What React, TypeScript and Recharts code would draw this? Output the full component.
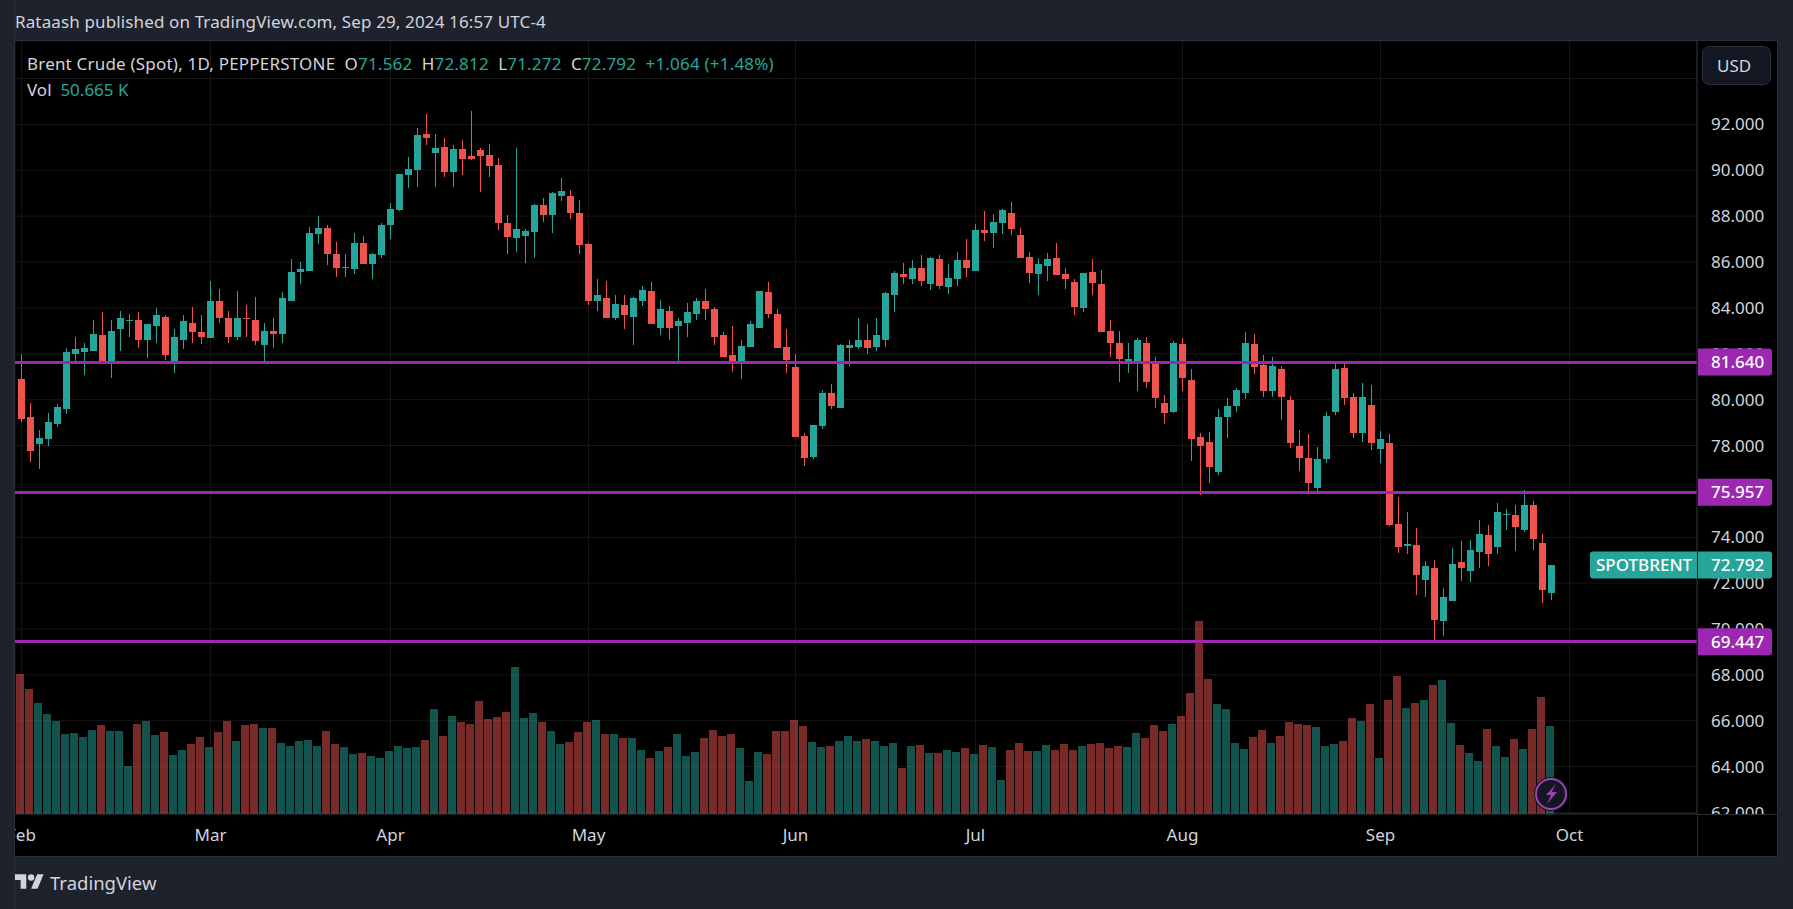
import { Bar, CartesianGrid, ComposedChart, ReferenceLine, XAxis, YAxis } from 'recharts'

// Brent daily candles, one entry per session from the first Feb bar to the last bar
const opens = [
  80.88, 79.23, 78.06, 78.28, 78.93, 79.58, 81.97, 82.06, 82.14, 82.8,
  81.62, 83.06, 83.41, 83.49, 82.58, 83.19, 83.62, 81.67, 82.62, 83.36,
  82.97, 82.67, 84.28, 83.58, 82.71, 83.58, 83.49, 82.36, 83.01, 82.88,
  84.32, 85.58, 85.62, 87.23, 87.49, 86.36, 85.75, 85.71, 86.84, 85.93,
  86.32, 87.62, 88.28, 89.8, 90.01, 91.58, 90.75, 91.01, 89.93, 90.93,
  90.62, 90.88, 90.67, 90.23, 87.71, 87.06, 87.14, 87.32, 88.49, 88.06,
  88.88, 88.88, 88.14, 86.8, 84.32, 84.45, 83.58, 84.14, 83.62, 84.32,
  84.75, 83.14, 83.88, 83.19, 83.32, 83.75, 84.28, 83.97, 82.8, 81.93,
  81.67, 82.28, 83.14, 84.71, 83.75, 82.28, 81.41, 78.41, 77.49, 78.84,
  80.28, 79.62, 82.23, 82.28, 82.62, 82.28, 82.62, 84.54, 85.49, 85.28,
  85.75, 85.06, 86.14, 84.93, 85.28, 86.1, 85.62, 87.41, 87.28, 87.71,
  88.14, 87.19, 86.23, 85.49, 85.84, 86.19, 85.49, 85.14, 84.01, 85.58,
  85.06, 83.01, 82.49, 81.62, 81.67, 82.49, 81.58, 79.84, 79.45, 82.41,
  80.84, 78.36, 78.14, 76.84, 79.23, 79.71, 80.28, 82.41, 81.49, 80.36,
  81.32, 79.97, 77.97, 77.45, 76.14, 77.41, 79.45, 81.36, 80.1, 78.54,
  79.75, 77.84, 78.1, 74.58, 73.62, 73.67, 72.14, 72.67, 70.36, 71.23,
  72.93, 72.54, 73.36, 74.1, 73.58, 74.97, 74.97, 74.32, 75.41, 73.75, 71.562,
]
const closes = [
  79.14, 77.75, 78.32, 79.01, 79.67, 82.06, 82.19, 82.23, 82.84, 81.67,
  83.01, 83.54, 83.49, 82.62, 83.28, 83.67, 81.93, 82.71, 83.41, 82.93,
  82.75, 84.28, 83.58, 82.75, 83.58, 83.54, 82.54, 83.01, 82.84, 84.45,
  85.58, 85.71, 87.28, 87.49, 86.36, 85.75, 85.8, 86.84, 85.93, 86.36,
  87.62, 88.32, 89.84, 90.06, 91.54, 91.41, 90.97, 89.93, 90.93, 90.49,
  90.49, 90.62, 90.19, 87.71, 87.1, 87.45, 87.36, 88.49, 88.06, 89.01,
  89.1, 88.14, 86.75, 84.32, 84.54, 83.58, 84.19, 83.71, 84.41, 84.8,
  83.28, 83.93, 83.14, 83.41, 83.84, 84.32, 83.93, 82.75, 81.88, 81.67,
  82.32, 83.28, 84.75, 83.75, 82.23, 81.71, 78.36, 77.45, 78.88, 80.28,
  79.71, 82.36, 82.36, 82.62, 82.23, 82.8, 84.67, 85.54, 85.36, 85.75,
  85.19, 86.19, 84.97, 85.32, 86.1, 85.75, 87.41, 87.28, 87.75, 88.28,
  87.45, 86.19, 85.54, 85.93, 86.14, 85.45, 85.28, 84.06, 85.54, 85.1,
  82.97, 82.45, 81.75, 81.75, 82.58, 80.75, 80.06, 79.41, 82.49, 80.93,
  78.28, 77.97, 77.06, 79.23, 79.71, 80.41, 82.49, 81.41, 80.36, 81.45,
  80.1, 78.1, 77.45, 76.36, 77.41, 79.28, 81.32, 80.06, 78.54, 80.1,
  78.1, 78.28, 74.54, 73.58, 73.71, 72.36, 72.75, 70.41, 71.41, 72.84,
  72.67, 73.45, 74.14, 73.28, 75.1, 75.01, 74.45, 75.41, 73.93, 71.71, 72.792,
]
const highs = [
  81.97, 79.84, 78.67, 79.41, 79.8, 82.23, 82.75, 82.45, 83.49, 83.84,
  83.45, 83.88, 83.75, 83.8, 83.28, 84.01, 83.67, 83.1, 83.67, 84.06,
  83.71, 85.19, 84.84, 83.88, 84.75, 84.14, 84.49, 83.32, 83.54, 84.71,
  86.13, 86.01, 87.52, 88.01, 87.62, 86.88, 86.36, 87.28, 87.14, 86.41,
  87.71, 88.58, 89.84, 90.58, 91.84, 92.45, 91.58, 91.41, 91.1, 91.32,
  92.58, 90.97, 91.14, 90.54, 88.06, 90.97, 87.45, 88.54, 88.8, 89.06,
  89.67, 89.14, 88.71, 86.84, 85.28, 85.19, 84.54, 84.54, 84.49, 84.97,
  85.14, 84.36, 84.1, 83.54, 84.23, 84.45, 84.84, 84.06, 82.93, 83.23,
  82.62, 83.41, 84.75, 85.14, 83.97, 83.06, 82.01, 78.54, 78.88, 80.41,
  80.67, 82.41, 82.62, 83.58, 83.28, 83.58, 84.71, 85.62, 85.97, 86.1,
  86.32, 86.23, 86.32, 85.93, 86.45, 87.01, 87.67, 88.23, 88.1, 88.32,
  88.62, 87.49, 86.45, 86.19, 86.41, 86.84, 85.75, 85.28, 85.54, 86.14,
  85.67, 83.49, 83.01, 82.45, 82.67, 82.75, 81.84, 80.19, 82.54, 82.67,
  81.32, 78.54, 78.58, 79.58, 80.06, 80.49, 82.97, 82.84, 81.93, 81.88,
  81.45, 80.14, 78.67, 78.49, 77.93, 79.45, 81.67, 81.62, 80.28, 80.71,
  80.62, 78.62, 78.49, 75.75, 75.1, 74.41, 72.97, 73.01, 71.8, 73.54,
  73.84, 73.88, 74.75, 74.54, 75.49, 75.23, 75.41, 76.06, 75.58, 74.14, 72.812,
]
const lows = [
  79.01, 77.28, 76.97, 77.97, 78.8, 79.36, 81.54, 81.06, 82.1, 81.61,
  80.93, 82.1, 82.71, 82.23, 81.8, 82.49, 81.71, 81.14, 82.19, 82.49,
  82.41, 82.67, 83.36, 82.45, 82.58, 82.75, 82.36, 81.62, 82.23, 82.45,
  84.32, 85.06, 85.62, 86.8, 85.88, 85.36, 85.36, 85.49, 85.93, 85.28,
  86.19, 87.01, 88.23, 89.23, 89.28, 91.1, 89.28, 89.71, 89.28, 89.8,
  90.45, 89.06, 89.71, 87.41, 86.36, 86.45, 85.97, 86.19, 87.75, 87.28,
  88.67, 87.88, 86.36, 84.14, 83.88, 83.58, 83.49, 83.1, 82.36, 84.1,
  83.28, 82.8, 82.62, 81.54, 82.75, 83.49, 83.45, 82.36, 81.84, 81.19,
  80.88, 82.28, 83.14, 83.54, 82.23, 81.14, 78.36, 77.1, 77.41, 78.71,
  79.58, 79.62, 81.45, 82.19, 82.01, 82.14, 82.28, 83.84, 85.06, 85.06,
  84.97, 84.8, 84.84, 84.62, 84.97, 85.36, 85.62, 86.93, 86.62, 87.23,
  87.19, 86.19, 85.1, 84.54, 85.19, 85.45, 84.84, 83.71, 83.8, 84.58,
  82.93, 81.88, 80.75, 81.14, 80.36, 80.49, 79.62, 78.93, 79.41, 80.36,
  77.32, 75.84, 76.36, 76.71, 78.32, 79.45, 80.01, 81.1, 80.1, 80.1,
  79.1, 77.88, 76.88, 75.97, 76.01, 77.23, 79.32, 79.75, 78.32, 78.14,
  77.8, 77.23, 74.49, 73.32, 73.28, 71.49, 71.41, 69.41, 69.71, 71.23,
  72.1, 72.06, 72.67, 72.75, 73.28, 74.32, 73.41, 74.23, 73.45, 71.14, 71.272,
]
// volume in thousands, same sessions; the session before the first one is cut by the pane edge
const priorVolume = 68.3
const volumes = [
  80.3, 71.7, 63.7, 57.4, 53.4, 45.9, 46.5, 44.2, 48.2, 51.1,
  47.6, 47.6, 27.5, 51.7, 53.4, 45.3, 47.1, 33.9, 36.7, 40.2,
  44.2, 38.5, 47.1, 53.4, 41.9, 51.1, 51.7, 49.4, 49.4, 40.7,
  39.0, 41.9, 42.5, 39.0, 47.6, 40.2, 38.5, 34.4, 35.0, 33.3,
  32.1, 36.2, 39.0, 37.9, 38.5, 42.5, 60.3, 44.8, 56.2, 52.8,
  51.7, 64.9, 54.5, 55.7, 58.5, 84.4, 55.1, 58.0, 52.8, 47.6,
  40.2, 41.3, 47.1, 52.8, 53.9, 45.9, 45.9, 43.6, 43.6, 36.7,
  32.1, 36.2, 38.5, 45.9, 33.3, 35.6, 43.6, 48.2, 44.8, 45.9,
  37.9, 18.9, 35.6, 34.4, 47.6, 47.6, 53.9, 50.5, 41.3, 38.5,
  39.0, 41.9, 44.8, 41.9, 43.0, 41.9, 39.0, 40.7, 26.4, 39.0,
  39.6, 35.0, 35.0, 36.7, 35.6, 37.9, 34.4, 39.6, 38.5, 19.5,
  36.7, 40.7, 36.2, 36.2, 39.6, 36.7, 40.2, 36.7, 39.0, 40.2,
  40.7, 37.9, 39.0, 38.5, 46.5, 43.6, 51.1, 47.6, 51.7, 56.2,
  69.4, 110.8, 77.5, 63.1, 60.3, 40.7, 37.3, 44.2, 48.2, 40.7,
  44.8, 52.8, 51.7, 51.1, 49.9, 39.0, 40.2, 41.9, 55.1, 53.4,
  63.1, 32.1, 65.4, 79.2, 60.8, 63.7, 65.4, 74.0, 76.9, 52.2,
  39.6, 35.0, 30.4, 48.8, 39.0, 32.7, 43.0, 37.3, 48.8, 67.1, 50.665,
]
const priceTicks = [62, 64, 66, 68, 70, 72, 74, 76, 78, 80, 82, 84, 86, 88, 90, 92, 94]
const unlabelledTicks = [76, 94]
const monthTicks = [0, 21, 41, 63, 86, 106, 129, 151, 172]
const monthLabels = ['Feb', 'Mar', 'Apr', 'May', 'Jun', 'Jul', 'Aug', 'Sep', 'Oct']
const levels = [81.64, 75.957, 69.447]
const lastPrice = 72.792
const symbol = 'SPOTBRENT'

const UP = '#26a69a'
const DOWN = '#ef5350'
const PURPLE = '#9c27b0'
const FRAME = '#2a2e39'
const PAGE = '#1e222d'
const TEXT = '#d1d4dc'
const FONT = '"Noto Sans", sans-serif'
const TIME_DOMAIN = [-0.7222, 186.167]
const PRICE_DOMAIN = [61.935, 95.635]

const rows = [
  { idx: -1, volume: priorVolume },
  ...opens.map((open, i) => ({
    idx: i,
    open,
    close: closes[i],
    range: [lows[i], highs[i]],
    volume: volumes[i],
  })),
]

function Candle({ x, y, width, height, payload }: any) {
  if (!payload.range || !height) return null
  const [low, high] = payload.range
  const perUnit = height / (high - low)
  const top = y + (high - Math.max(payload.open, payload.close)) * perUnit
  const size = Math.max(Math.abs(payload.open - payload.close) * perUnit, 1)
  const fill = payload.close >= payload.open ? UP : DOWN
  const cx = Math.floor(x + width / 2)
  return (
    <g shapeRendering="crispEdges">
      <rect x={cx} y={y} width={1} height={height} fill={fill} />
      <rect x={cx - 3} y={top} width={7} height={size} fill={fill} />
    </g>
  )
}

function VolumeBar({ x, y, width, height, payload }: any) {
  const up = payload.close >= payload.open
  return (
    <rect
      x={Math.floor(x)}
      y={y}
      width={width}
      height={height}
      fill={up ? UP : DOWN}
      fillOpacity={0.5}
      shapeRendering="crispEdges"
    />
  )
}

function LevelTag({ viewBox, value }: any) {
  const left = viewBox.x + viewBox.width + 1
  return (
    <g>
      <path
        d={`M${left} ${viewBox.y - 13.5}h71a3 3 0 0 1 3 3v21a3 3 0 0 1 -3 3h-71z`}
        fill={PURPLE}
      />
      <text x={left + 13} y={viewBox.y + 6} fill="#fff" fontFamily={FONT} fontSize={17} fontWeight={500}>
        {value.toFixed(3)}
      </text>
    </g>
  )
}

function LastPriceTag({ viewBox }: any) {
  const axis = viewBox.x + viewBox.width
  return (
    <g>
      <path
        d={`M${axis - 104} ${viewBox.y - 13.5}h104v27h-104a3 3 0 0 1 -3 -3v-21a3 3 0 0 1 3 -3z`}
        fill={UP}
      />
      <path
        d={`M${axis + 1} ${viewBox.y - 13.5}h71a3 3 0 0 1 3 3v21a3 3 0 0 1 -3 3h-71z`}
        fill={UP}
      />
      <text x={axis - 101} y={viewBox.y + 6} fill="#fff" fontFamily={FONT} fontSize={17} fontWeight={500}>
        {symbol}
      </text>
      <text x={axis + 14} y={viewBox.y + 6} fill="#fff" fontFamily={FONT} fontSize={17} fontWeight={500}>
        {lastPrice.toFixed(3)}
      </text>
    </g>
  )
}

// second transparent chart on the same scales, only so the tags paint over the axis labels
function TagLayer() {
  return (
    <div style={{ position: 'absolute', left: 0, top: 0 }}>
      <ComposedChart
        width={1793}
        height={909}
        data={rows}
        margin={{ top: 41, right: 96, bottom: 95, left: 15 }}
      >
        <XAxis dataKey="idx" type="number" domain={TIME_DOMAIN} allowDataOverflow hide />
        <YAxis domain={PRICE_DOMAIN} allowDataOverflow hide />
        {levels.map((level) => (
          <ReferenceLine
            key={level}
            y={level}
            stroke="none"
            label={{ content: (p: any) => <LevelTag {...p} value={level} /> }}
          />
        ))}
        <ReferenceLine
          y={lastPrice}
          stroke="none"
          label={{ content: (p: any) => <LastPriceTag {...p} /> }}
        />
      </ComposedChart>
    </div>
  )
}

function Teal({ children }: { children: string }) {
  return <span style={{ color: UP }}>{children}</span>
}

function Overlay() {
  return (
    <>
      {/* strips around the pane */}
      <div style={{ position: 'absolute', left: 0, top: 0, width: 15, height: 909, background: PAGE, borderRight: `1px solid ${FRAME}`, boxSizing: 'border-box' }} />
      {/* price scale ends at the time axis, so the 62 label is cut there */}
      <div style={{ position: 'absolute', left: 1697, top: 814, width: 80, height: 42, background: '#000' }} />
      <div style={{ position: 'absolute', left: 1697, top: 814, width: 80, height: 1, background: FRAME }} />
      <div style={{ position: 'absolute', left: 1697, top: 814, width: 1, height: 42, background: FRAME }} />
      <div style={{ position: 'absolute', left: 15, top: 40, width: 1763, height: 1, background: FRAME }} />
      <div style={{ position: 'absolute', left: 15, top: 856, width: 1763, height: 1, background: FRAME }} />
      <div style={{ position: 'absolute', left: 1777, top: 40, width: 1, height: 817, background: FRAME }} />

      <div style={{ position: 'absolute', left: 15, top: 10, color: TEXT, fontSize: 17, letterSpacing: 0.13, whiteSpace: 'nowrap' }}>
        Rataash published on TradingView.com, Sep 29, 2024 16:57 UTC-4
      </div>

      <div style={{ position: 'absolute', left: 27, top: 52, color: TEXT, fontSize: 17, letterSpacing: 0.2, whiteSpace: 'pre' }}>
        {'Brent Crude (Spot), 1D, PEPPERSTONE  O'}
        <Teal>71.562</Teal>
        {'  H'}
        <Teal>72.812</Teal>
        {'  L'}
        <Teal>71.272</Teal>
        {'  C'}
        <Teal>72.792</Teal>
        {'  '}
        <Teal>+1.064 (+1.48%)</Teal>
      </div>
      <div style={{ position: 'absolute', left: 27, top: 78, color: TEXT, fontSize: 17, whiteSpace: 'pre' }}>
        {'Vol  '}
        <Teal>50.665 K</Teal>
      </div>

      <div style={{ position: 'absolute', left: 1702, top: 46, width: 69, height: 39, boxSizing: 'border-box', background: '#131722', border: `1px solid ${FRAME}`, borderRadius: 7, color: TEXT, fontSize: 17, paddingLeft: 14, lineHeight: '37px' }}>
        USD
      </div>

      <svg style={{ position: 'absolute', left: 1533, top: 776 }} width={36} height={36}>
        <circle cx={18} cy={18} r={17} fill="#131722" />
        <circle cx={18} cy={18} r={15} fill="none" stroke="#a040b8" strokeWidth={2} />
        <path d="M23 8l-10 11h5l-4 9l10-12h-5.5z" fill="#a040b8" />
      </svg>

      <svg style={{ position: 'absolute', left: 15, top: 874 }} width={29} height={15} viewBox="0 4 36 18">
        <path d="M14 22H7V11H0V4h14v18zM28 22h-8l7.5-18h8L28 22z" fill={TEXT} />
        <circle cx={20} cy={8} r={4} fill={TEXT} />
      </svg>
      <div style={{ position: 'absolute', left: 50, top: 870, color: TEXT, fontSize: 18.5, whiteSpace: 'nowrap' }}>
        TradingView
      </div>
    </>
  )
}

export default function App() {
  return (
    <div style={{ position: 'absolute', left: 0, top: 0, width: 1793, height: 909, overflow: 'hidden', background: PAGE, fontFamily: FONT }}>
      <div style={{ position: 'absolute', left: 15, top: 40, width: 1763, height: 817, background: '#000' }} />
      <div style={{ position: 'absolute', left: 0, top: 0 }}>
        <ComposedChart
          width={1793}
          height={909}
          data={rows}
          margin={{ top: 41, right: 0, bottom: 53, left: 15 }}
        >
          <CartesianGrid stroke="#161616" xAxisId="time" yAxisId="price" />
          <XAxis
            xAxisId="time"
            dataKey="idx"
            type="number"
            domain={TIME_DOMAIN}
            allowDataOverflow
            ticks={monthTicks}
            interval={0}
            tickFormatter={(v: number) => monthLabels[monthTicks.indexOf(v)]}
            tick={{ fill: TEXT, fontSize: 17, fontFamily: FONT }}
            tickLine={false}
            tickSize={0}
            tickMargin={15}
            axisLine={{ stroke: FRAME }}
            height={42}
          />
          <XAxis xAxisId="vol" dataKey="idx" type="number" domain={TIME_DOMAIN} allowDataOverflow hide />
          <YAxis
            yAxisId="price"
            orientation="right"
            domain={PRICE_DOMAIN}
            allowDataOverflow
            ticks={priceTicks}
            interval={0}
            tickFormatter={(v: number) => (unlabelledTicks.includes(v) ? '' : v.toFixed(3))}
            tick={{ fill: TEXT, fontSize: 17, fontFamily: FONT }}
            tickLine={false}
            tickSize={0}
            tickMargin={14}
            axisLine={{ stroke: FRAME }}
            width={96}
          />
          <YAxis yAxisId="volume" orientation="left" domain={[0, 443.5]} allowDataOverflow hide />
          <Bar
            xAxisId="vol"
            yAxisId="volume"
            dataKey="volume"
            barSize={8}
            shape={VolumeBar}
            isAnimationActive={false}
          />
          {levels.map((level) => (
            <ReferenceLine
              key={level}
              xAxisId="time"
              yAxisId="price"
              y={level}
              stroke={PURPLE}
              strokeWidth={3}
              shapeRendering="crispEdges"
            />
          ))}
          <Bar
            xAxisId="time"
            yAxisId="price"
            dataKey="range"
            barSize={7}
            shape={Candle}
            isAnimationActive={false}
          />
        </ComposedChart>
      </div>
      <TagLayer />
      <Overlay />
    </div>
  )
}
